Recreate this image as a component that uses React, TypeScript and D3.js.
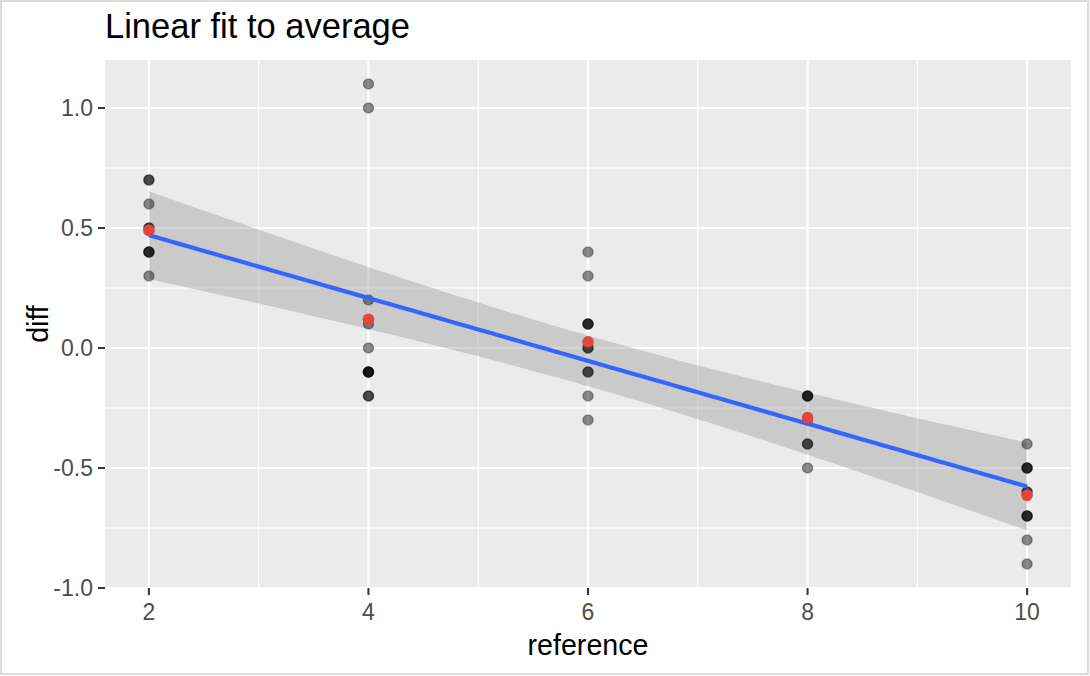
import React from 'react';
import * as d3 from 'd3';

// observed diffs per reference level (duplicates stack up darker)
const refs = [2, 4, 6, 8, 10];
const diffs2 = [0.7, 0.7, 0.6, 0.5, 0.5, 0.4, 0.4, 0.4, 0.3];
const diffs4 = [1.1, 1.0, 0.2, 0.1, 0.0, -0.1, -0.1, -0.1, -0.1, -0.2, -0.2];
const diffs6 = [0.4, 0.3, 0.1, 0.1, 0.1, 0.0, 0.0, -0.1, -0.1, -0.2, -0.3];
const diffs8 = [-0.2, -0.2, -0.2, -0.3, -0.4, -0.4, -0.5];
const diffs10 = [-0.4, -0.5, -0.5, -0.5, -0.6, -0.6, -0.7, -0.7, -0.7, -0.8, -0.9];
const averages = [0.49, 0.12, 0.026, -0.29, -0.614];

const xTicks = [2, 4, 6, 8, 10];
const xMinor = [3, 5, 7, 9];
const yTicks = [-1.0, -0.5, 0.0, 0.5, 1.0];
const yMinor = [-0.75, -0.25, 0.25, 0.75];

const W = 1090;
const H = 676;
const margin = { top: 60, right: 19, bottom: 88, left: 105 };

// ordinary least squares on the averages, with 95% band (t, df = 3)
function fit(xs: number[], ys: number[]) {
  const n = xs.length;
  const mx = d3.mean(xs)!;
  const my = d3.mean(ys)!;
  const sxx = d3.sum(xs, (x) => (x - mx) ** 2);
  const slope = d3.sum(xs, (x, i) => (x - mx) * (ys[i] - my)) / sxx;
  const icpt = my - slope * mx;
  const sse = d3.sum(xs, (x, i) => (ys[i] - (icpt + slope * x)) ** 2);
  const s = Math.sqrt(sse / (n - 2));
  const t = 3.182446;
  return { slope, icpt, s, n, mx, sxx, t };
}

export default function App() {
  const x = d3.scaleLinear().domain([1.6, 10.4]).range([margin.left, W - margin.right]);
  const y = d3.scaleLinear().domain([-1.0, 1.2]).range([H - margin.bottom, margin.top]);

  const f = fit(refs, averages);
  const grid = d3.range(0, 81).map((i) => 2 + i * 0.1);
  const band = grid.map((xv) => {
    const yhat = f.icpt + f.slope * xv;
    const se = f.s * Math.sqrt(1 / f.n + (xv - f.mx) ** 2 / f.sxx);
    return { xv, yhat, lo: yhat - f.t * se, hi: yhat + f.t * se };
  });
  const area = d3
    .area<{ xv: number; lo: number; hi: number }>()
    .x((d) => x(d.xv))
    .y0((d) => y(d.lo))
    .y1((d) => y(d.hi));
  const line = d3
    .line<{ xv: number; yhat: number }>()
    .x((d) => x(d.xv))
    .y((d) => y(d.yhat));

  const groups = [diffs2, diffs4, diffs6, diffs8, diffs10];
  const pts = groups.flatMap((g, i) => g.map((v) => ({ r: refs[i], v })));

  const font = '"Liberation Sans", Arial, Helvetica, sans-serif';
  const px0 = margin.left;
  const px1 = W - margin.right;
  const py0 = margin.top;
  const py1 = H - margin.bottom;

  return (
    <svg
      width={W}
      height={H}
      style={{ position: 'absolute', left: 0, top: 0 }}
      fontFamily={font}
    >
      <rect x={0} y={0} width={W} height={H} fill="#fff" />
      <rect x={1} y={1} width={W - 3} height={H - 3} fill="none" stroke="#d9dcdf" strokeWidth={2} />

      <text x={px0} y={38} fontSize={34.5} fill="#000">
        Linear fit to average
      </text>

      <rect x={px0} y={py0} width={px1 - px0} height={py1 - py0} fill="#ebebeb" />
      {yMinor.map((t) => (
        <line key={'ym' + t} x1={px0} x2={px1} y1={y(t)} y2={y(t)} stroke="#fff" strokeWidth={1.1} />
      ))}
      {xMinor.map((t) => (
        <line key={'xm' + t} x1={x(t)} x2={x(t)} y1={py0} y2={py1} stroke="#fff" strokeWidth={1.1} />
      ))}
      {yTicks.map((t) => (
        <line key={'yM' + t} x1={px0} x2={px1} y1={y(t)} y2={y(t)} stroke="#fff" strokeWidth={2.2} />
      ))}
      {xTicks.map((t) => (
        <line key={'xM' + t} x1={x(t)} x2={x(t)} y1={py0} y2={py1} stroke="#fff" strokeWidth={2.2} />
      ))}

      <path d={area(band) || ''} fill="#999999" fillOpacity={0.4} />

      {pts.map((p, i) => (
        <circle
          key={'p' + i}
          cx={x(p.r)}
          cy={y(p.v)}
          r={5.1}
          fill="#000"
          fillOpacity={0.45}
          stroke="#000"
          strokeOpacity={0.35}
          strokeWidth={1.3}
        />
      ))}

      <path d={line(band) || ''} fill="none" stroke="#3366ff" strokeWidth={4.2} />

      {averages.map((v, i) => (
        <circle key={'a' + i} cx={x(refs[i])} cy={y(v)} r={5.8} fill="#e5463c" />
      ))}

      {yTicks.map((t) => (
        <g key={'yt' + t}>
          <line x1={px0 - 7} x2={px0} y1={y(t)} y2={y(t)} stroke="#333" strokeWidth={2} />
          <text
            x={px0 - 12}
            y={y(t)}
            dy="0.36em"
            textAnchor="end"
            fontSize={23}
            fill="#4d4d4d"
          >
            {t.toFixed(1)}
          </text>
        </g>
      ))}
      {xTicks.map((t) => (
        <g key={'xt' + t}>
          <line x1={x(t)} x2={x(t)} y1={py1} y2={py1 + 7} stroke="#333" strokeWidth={2} />
          <text x={x(t)} y={py1 + 32} textAnchor="middle" fontSize={23} fill="#4d4d4d">
            {t}
          </text>
        </g>
      ))}

      <text x={(px0 + px1) / 2} y={655} textAnchor="middle" fontSize={28.6} fill="#000">
        reference
      </text>
      <text
        transform={`translate(${48},${(py0 + py1) / 2}) rotate(-90)`}
        textAnchor="middle"
        fontSize={28.6}
        fill="#000"
      >
        diff
      </text>
    </svg>
  );
}
